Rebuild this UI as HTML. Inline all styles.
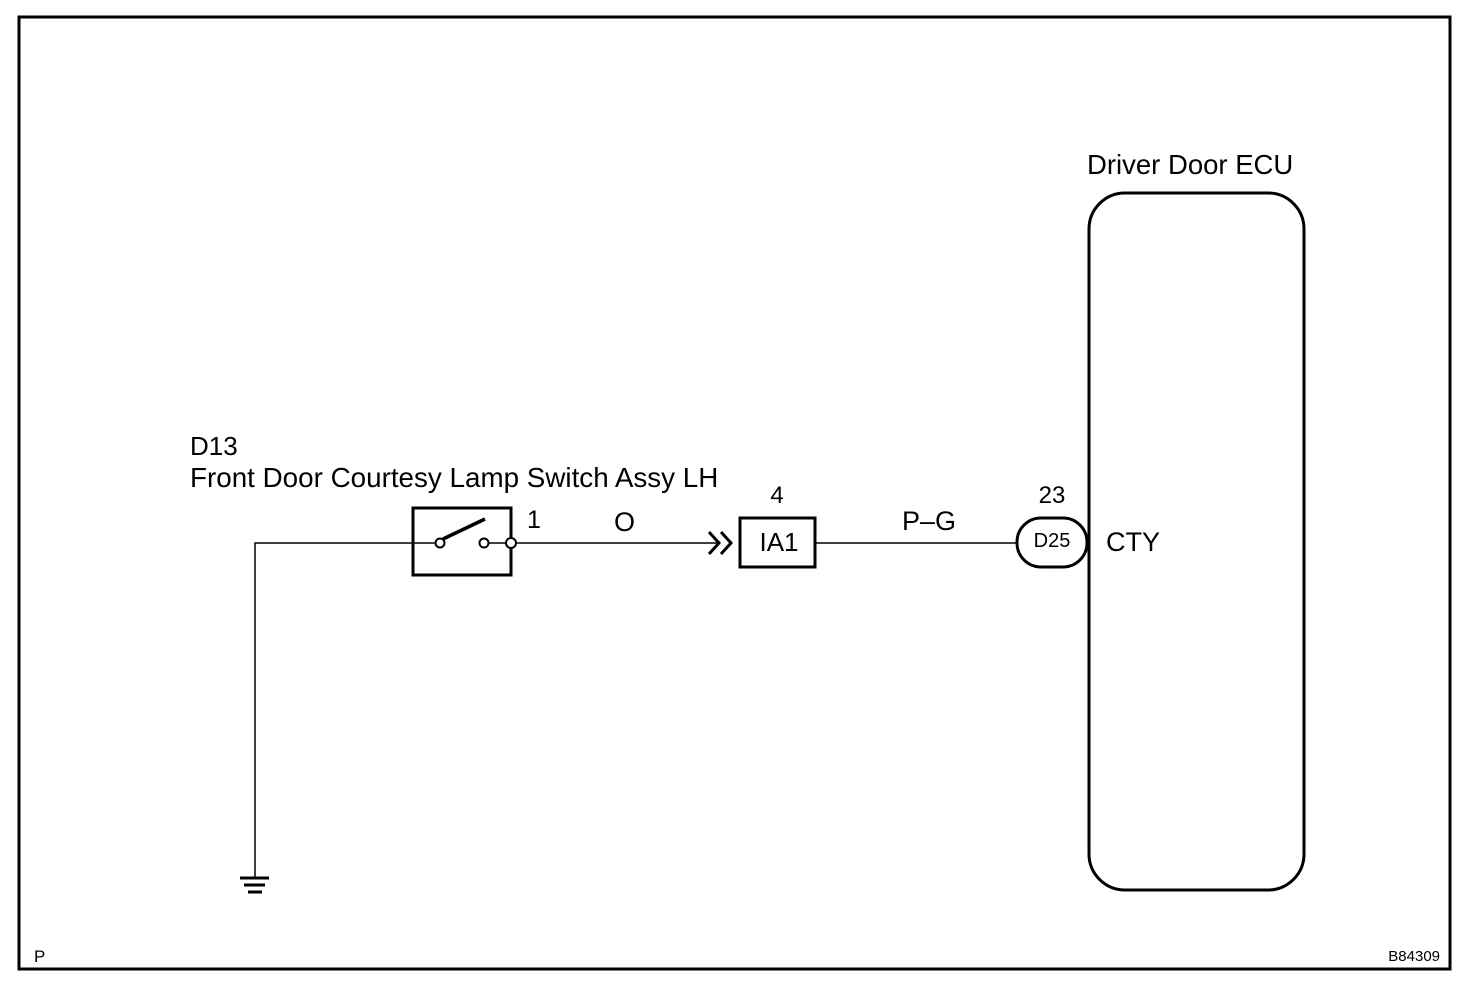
<!DOCTYPE html>
<html><head><meta charset="utf-8"><style>
html,body{margin:0;padding:0;background:#fff;}
svg{display:block}
text{font-family:"Liberation Sans",sans-serif;fill:#000}
</style></head><body>
<svg width="1472" height="986" viewBox="0 0 1472 986" xmlns="http://www.w3.org/2000/svg">
<rect x="19" y="17" width="1431" height="952" fill="none" stroke="#000" stroke-width="3"/>
<text x="1087" y="174" font-size="27.5">Driver Door ECU</text>
<rect x="1089" y="193" width="215" height="697" rx="36" ry="36" fill="none" stroke="#000" stroke-width="3"/>
<text x="190" y="455" font-size="26">D13</text>
<text x="190" y="487" font-size="27.8">Front Door Courtesy Lamp Switch Assy LH</text>
<polyline points="413,543 255,543 255,878" fill="none" stroke="#000" stroke-width="1.5"/>
<line x1="240" y1="878" x2="269" y2="878" stroke="#000" stroke-width="3"/>
<line x1="244" y1="885" x2="265" y2="885" stroke="#000" stroke-width="3"/>
<line x1="248" y1="892" x2="262" y2="892" stroke="#000" stroke-width="3"/>
<rect x="413" y="508" width="98" height="67" fill="none" stroke="#000" stroke-width="3"/>
<line x1="413" y1="543" x2="436" y2="543" stroke="#000" stroke-width="1.5"/>
<line x1="488" y1="543" x2="507" y2="543" stroke="#000" stroke-width="1.5"/>
<line x1="443" y1="539" x2="485" y2="519" stroke="#000" stroke-width="3.5"/>
<circle cx="440" cy="543" r="4.5" fill="#fff" stroke="#000" stroke-width="2"/>
<circle cx="484" cy="543" r="4.5" fill="#fff" stroke="#000" stroke-width="2"/>
<circle cx="511" cy="543" r="5" fill="#fff" stroke="#000" stroke-width="2"/>
<text x="527" y="528" font-size="25">1</text>
<text x="614" y="531" font-size="27">O</text>
<line x1="516" y1="543" x2="720" y2="543" stroke="#000" stroke-width="1.5"/>
<polyline points="709,532 719,543 709,554" fill="none" stroke="#000" stroke-width="3"/>
<polyline points="721,532 731,543 721,554" fill="none" stroke="#000" stroke-width="3"/>
<rect x="740" y="518" width="75" height="49" fill="none" stroke="#000" stroke-width="3"/>
<text x="779" y="551" font-size="26" text-anchor="middle">IA1</text>
<text x="777" y="503" font-size="24" text-anchor="middle">4</text>
<line x1="815" y1="543" x2="1017" y2="543" stroke="#000" stroke-width="1.5"/>
<text x="929" y="530" font-size="27" text-anchor="middle">P–G</text>
<rect x="1017" y="518" width="70" height="49" rx="24" ry="24" fill="#fff" stroke="#000" stroke-width="3"/>
<text x="1052" y="547" font-size="20" text-anchor="middle">D25</text>
<text x="1052" y="503" font-size="24" text-anchor="middle">23</text>
<text x="1106" y="551" font-size="27">CTY</text>
<text x="34" y="962" font-size="17">P</text>
<text x="1440" y="961" font-size="15" text-anchor="end">B84309</text>
</svg>
</body></html>
